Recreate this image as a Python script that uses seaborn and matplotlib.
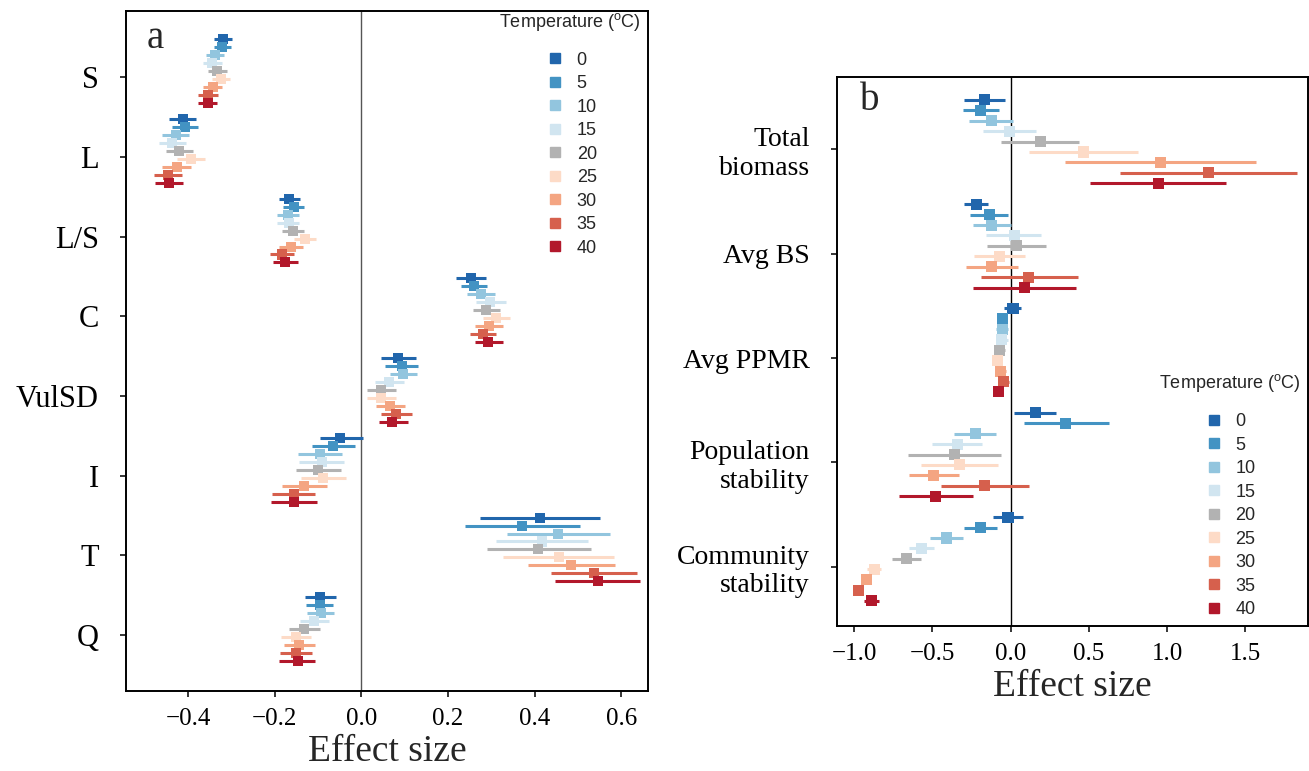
import matplotlib
matplotlib.use("Agg")
import matplotlib.pyplot as plt
from matplotlib.lines import Line2D
import pandas as pd
import seaborn as sns

# ── Temperatures and colours ────────────────────────────────────────────────
TEMPS = [0, 5, 10, 15, 20, 25, 30, 35, 40]
COLORS = ["#2166AC", "#4393C3", "#92C5DE", "#D1E5F0", "#B2B2B2",
          "#FDDBC7", "#F4A582", "#D6604D", "#B2182B"]

# ── Panel a: food-web properties, (estimate, lower, upper) per temperature ──
A_NAMES = ["S", "L", "L/S", "C", "VulSD", "I", "T", "Q"]

S = [(-0.320, -0.340, -0.299), (-0.322, -0.341, -0.301), (-0.338, -0.358, -0.317),
     (-0.344, -0.365, -0.322), (-0.334, -0.353, -0.311), (-0.324, -0.345, -0.303),
     (-0.342, -0.365, -0.321), (-0.353, -0.376, -0.330), (-0.354, -0.376, -0.332)]
L = [(-0.412, -0.443, -0.381), (-0.407, -0.438, -0.378), (-0.428, -0.459, -0.398),
     (-0.436, -0.466, -0.405), (-0.421, -0.451, -0.389), (-0.394, -0.425, -0.361),
     (-0.426, -0.459, -0.393), (-0.447, -0.478, -0.415), (-0.445, -0.476, -0.412)]
LS = [(-0.166, -0.189, -0.141), (-0.156, -0.180, -0.133), (-0.170, -0.194, -0.143),
      (-0.167, -0.194, -0.143), (-0.157, -0.182, -0.132), (-0.130, -0.155, -0.105),
      (-0.163, -0.190, -0.135), (-0.183, -0.210, -0.156), (-0.176, -0.203, -0.147)]
C = [(0.253, 0.219, 0.289), (0.261, 0.231, 0.290), (0.276, 0.244, 0.309),
     (0.298, 0.264, 0.335), (0.288, 0.257, 0.321), (0.311, 0.281, 0.343),
     (0.294, 0.262, 0.328), (0.281, 0.251, 0.311), (0.293, 0.263, 0.328)]
VULSD = [(0.085, 0.046, 0.126), (0.094, 0.055, 0.131), (0.096, 0.067, 0.129),
         (0.064, 0.032, 0.098), (0.046, 0.013, 0.080), (0.045, 0.013, 0.080),
         (0.066, 0.033, 0.102), (0.080, 0.045, 0.116), (0.071, 0.040, 0.107)]
I = [(-0.049, -0.095, 0.003), (-0.066, -0.113, -0.014), (-0.096, -0.145, -0.045),
     (-0.091, -0.143, -0.041), (-0.100, -0.150, -0.047), (-0.089, -0.139, -0.035),
     (-0.132, -0.183, -0.079), (-0.156, -0.205, -0.106), (-0.156, -0.208, -0.102)]
T = [(0.412, 0.273, 0.551), (0.372, 0.240, 0.504), (0.455, 0.337, 0.574),
     (0.416, 0.310, 0.523), (0.409, 0.291, 0.531), (0.456, 0.328, 0.584),
     (0.483, 0.385, 0.585), (0.538, 0.438, 0.637), (0.546, 0.446, 0.644)]
Q = [(-0.095, -0.129, -0.059), (-0.096, -0.128, -0.065), (-0.094, -0.126, -0.062),
     (-0.109, -0.141, -0.074), (-0.132, -0.166, -0.095), (-0.150, -0.185, -0.117),
     (-0.143, -0.178, -0.107), (-0.150, -0.187, -0.113), (-0.147, -0.189, -0.106)]

# ── Panel b: community measures ─────────────────────────────────────────────
B_NAMES = ["Total\nbiomass", "Avg BS", "Avg PPMR", "Population\nstability",
           "Community\nstability"]

BIOMASS = [(-0.166, -0.300, -0.038), (-0.193, -0.306, -0.077), (-0.125, -0.268, 0.015),
           (-0.010, -0.176, 0.162), (0.190, -0.059, 0.436), (0.464, 0.115, 0.811),
           (0.955, 0.345, 1.566), (1.262, 0.700, 1.828), (0.943, 0.509, 1.377)]
AVG_BS = [(-0.221, -0.296, -0.144), (-0.136, -0.257, -0.019), (-0.121, -0.242, 0.004),
          (0.024, -0.157, 0.196), (0.038, -0.151, 0.223), (-0.070, -0.236, 0.094),
          (-0.121, -0.285, 0.045), (0.117, -0.191, 0.430), (0.089, -0.243, 0.419)]
AVG_PPMR = [(0.015, -0.040, 0.066), (-0.055, -0.072, -0.038), (-0.055, -0.093, -0.017),
            (-0.057, -0.093, -0.020), (-0.072, -0.108, -0.034), (-0.087, -0.110, -0.062),
            (-0.064, -0.097, -0.030), (-0.047, -0.080, -0.013), (-0.078, -0.095, -0.062)]
POP_STAB = [(0.158, 0.019, 0.290), (0.353, 0.087, 0.628), (-0.227, -0.364, -0.091),
            (-0.342, -0.502, -0.183), (-0.361, -0.657, -0.061), (-0.327, -0.576, -0.080),
            (-0.493, -0.651, -0.332), (-0.166, -0.444, 0.119), (-0.483, -0.715, -0.242)]
COM_STAB = [(-0.017, -0.115, 0.077), (-0.193, -0.296, -0.087), (-0.412, -0.517, -0.306),
            (-0.570, -0.651, -0.487), (-0.668, -0.761, -0.570), (-0.870, -0.921, -0.827),
            (-0.921, -0.940, -0.900), (-0.974, -0.990, -0.958), (-0.891, -0.938, -0.842)]

A_ROWS = [S, L, LS, C, VULSD, I, T, Q]
B_ROWS = [BIOMASS, AVG_BS, AVG_PPMR, POP_STAB, COM_STAB]

# ── Aesthetics ──────────────────────────────────────────────────────────────
sns.set_theme(style="ticks")
plt.rcParams["font.family"] = ["Liberation Serif", "DejaVu Serif"]
plt.rcParams["axes.edgecolor"] = "black"
plt.rcParams["axes.linewidth"] = 1.4
plt.rcParams["xtick.color"] = "black"
plt.rcParams["ytick.color"] = "black"

SANS = ["Liberation Sans", "DejaVu Sans"]
PALETTE = dict(zip([str(t) for t in TEMPS], COLORS))


def build_frame(rows, names):
    recs = []
    for k, name in enumerate(names):
        for j, (est, lo, hi) in enumerate(rows[k]):
            recs.append({"metric": name, "temp": str(TEMPS[j]), "est": est,
                         "lo": lo, "hi": hi, "pos": k - 0.475 + 0.1 * j})
    return pd.DataFrame(recs)


def draw_panel(ax, df, names, msize, zero_color):
    ax.axvline(0, color=zero_color, lw=1.0, zorder=1)
    ax.hlines(df["pos"], df["lo"], df["hi"],
              colors=[PALETTE[t] for t in df["temp"]], lw=2.2, zorder=2)
    sns.scatterplot(data=df, x="est", y="pos", hue="temp", palette=PALETTE,
                    hue_order=list(PALETTE), marker="s", s=msize, linewidth=0,
                    legend=False, ax=ax, zorder=3)
    ax.set_yticks(range(len(names)))
    ax.set_ylabel("")
    ax.set_xlabel("Effect size", fontsize=27, labelpad=3)
    ax.tick_params(axis="both", direction="out", length=4.5, width=1.1)
    ax.tick_params(axis="y", pad=15)
    ax.tick_params(axis="x", pad=8, labelsize=18)
    for sp in ax.spines.values():
        sp.set_visible(True)


def add_legend(ax, anchor, title_xy):
    handles = [Line2D([], [], ls="", marker="s", ms=6.5, color=c) for c in COLORS]
    ax.legend(handles, [str(t) for t in TEMPS], loc="upper left",
              bbox_to_anchor=anchor, frameon=False, borderpad=0, borderaxespad=0,
              handlelength=0.8, handletextpad=0.8, labelspacing=0.36,
              prop={"family": SANS, "size": 13})
    ax.text(*title_xy, "Temperature ($^{\\mathregular{o}}$C)", transform=ax.transAxes,
            ha="center", va="center", fontsize=13, family=SANS)


fig = plt.figure(figsize=(13.09, 7.71), dpi=100)

# panel a
ax_a = fig.add_axes([0.0963, 0.1038, 0.3988, 0.882])
df_a = build_frame(A_ROWS, A_NAMES)
draw_panel(ax_a, df_a, A_NAMES, 52, "#555555")
ax_a.set_yticklabels(A_NAMES, fontsize=22)
ax_a.set_ylim(7.70, -0.83)
ax_a.set_xlim(-0.543, 0.662)
ticks_a = [-0.4, -0.2, 0.0, 0.2, 0.4, 0.6]
ax_a.set_xticks(ticks_a)
ax_a.set_xticklabels([f"{v:.1f}".replace("-", "\u2212") for v in ticks_a])
ax_a.text(0.056, 0.96, "a", transform=ax_a.transAxes, fontsize=28,
          ha="center", va="center")
add_legend(ax_a, (0.808, 0.940), (0.851, 0.984))

# panel b
ax_b = fig.add_axes([0.6394, 0.188, 0.3598, 0.712])
df_b = build_frame(B_ROWS, B_NAMES)
draw_panel(ax_b, df_b, B_NAMES, 63, "black")
ax_b.set_yticklabels(B_NAMES, fontsize=20, linespacing=1.2)
ax_b.set_ylim(4.569, -0.693)
ax_b.set_xlim(-1.11, 1.90)
ticks_b = [-1.0, -0.5, 0.0, 0.5, 1.0, 1.5]
ax_b.set_xticks(ticks_b)
ax_b.set_xticklabels([f"{v:.1f}".replace("-", "\u2212") for v in ticks_b])
ax_b.text(0.07, 0.958, "b", transform=ax_b.transAxes, fontsize=28,
          ha="center", va="center")
add_legend(ax_b, (0.785, 0.388), (0.834, 0.443))

fig.savefig("out.png", dpi=100)
plt.close(fig)
